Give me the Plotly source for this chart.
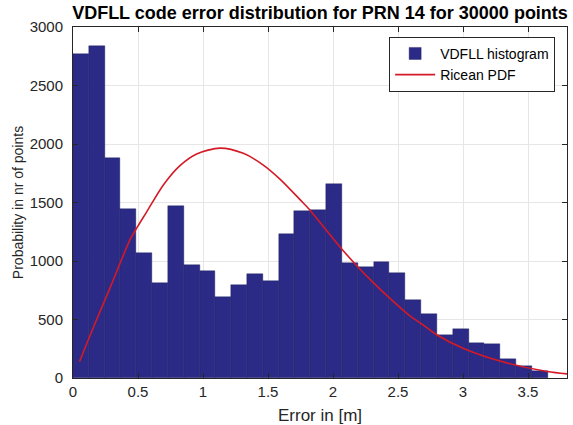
import plotly.graph_objects as go

# Histogram data (30 bins)
bin_start = 0.0
bin_width = 0.1217
counts = [2770, 2840, 1880, 1445, 1070, 815, 1470, 970, 915, 690,
          795, 885, 825, 1230, 1425, 1440, 1660, 985, 945, 990,
          900, 665, 545, 365, 420, 300, 290, 160, 100, 60]

# Ricean PDF curve
pdf_x = [0.05, 0.15, 0.285, 0.438, 0.5, 0.567, 0.695, 0.823, 0.951, 1.13,
         1.31, 1.464, 1.592, 1.746, 1.815, 2.054, 2.195, 2.31, 2.438, 2.592,
         2.695, 2.797, 3.0, 3.285, 3.648, 3.8]
pdf_y = [140, 415, 770, 1180, 1300, 1420, 1650, 1815, 1915, 1965,
         1920, 1820, 1700, 1525, 1445, 1120, 945, 815, 680, 530,
         452, 370, 255, 145, 55, 35]

x_ticks = [0, 0.5, 1, 1.5, 2, 2.5, 3, 3.5]
y_ticks = [0, 500, 1000, 1500, 2000, 2500, 3000]

centers = [bin_start + bin_width * (i + 0.5) for i in range(len(counts))]

FONT = "Liberation Sans, Arial"

fig = go.Figure()
fig.add_trace(go.Bar(
    x=centers, y=counts, width=[bin_width] * len(counts),
    marker=dict(color="#2c2a87", line=dict(color="#1c1b5a", width=0.4)),
    name="VDFLL histogram",
))
fig.add_trace(go.Scatter(
    x=pdf_x, y=pdf_y, mode="lines",
    line=dict(color="#d51a26", width=1.6, shape="spline", smoothing=0.8),
    name="Ricean PDF",
))

axis_common = dict(
    showline=True, linecolor="#262626", linewidth=1, mirror="ticks",
    ticks="inside", ticklen=5, tickcolor="#262626",
    showgrid=True, gridcolor="#e6e6e6", gridwidth=1, zeroline=False,
    tickfont=dict(family=FONT, size=15, color="#262626"),
)

fig.update_layout(
    width=573, height=425,
    margin=dict(l=73, r=6, t=27, b=47),
    paper_bgcolor="white", plot_bgcolor="white",
    bargap=0,
    title=dict(text="<b>VDFLL code error distribution for PRN 14 for 30000 points</b>",
               x=0.5, xref="paper", xanchor="center", y=0.971, yanchor="middle",
               font=dict(family=FONT, size=18, color="black")),
    showlegend=True,
    legend=dict(x=0.976, y=0.972, xanchor="right", yanchor="top",
                bgcolor="white", bordercolor="#262626", borderwidth=1,
                font=dict(family=FONT, size=14, color="black"),
                tracegroupgap=0, itemwidth=40),
    xaxis=dict(range=[0, 3.8], tickvals=x_ticks, ticktext=[str(v) for v in x_ticks],
               automargin=False,
               title=dict(text="Error in [m]",
                          font=dict(family=FONT, size=17, color="#262626")),
               **axis_common),
    yaxis=dict(range=[0, 3000], tickvals=y_ticks, ticklabelstandoff=6,
               automargin=True,
               title=dict(text="Probability in nr of points", standoff=2,
                          font=dict(family=FONT, size=14, color="#262626")),
               **axis_common),
)

fig.write_html("out.html", config={"displayModeBar": False},
               post_script="document.body.style.margin='0px';")
